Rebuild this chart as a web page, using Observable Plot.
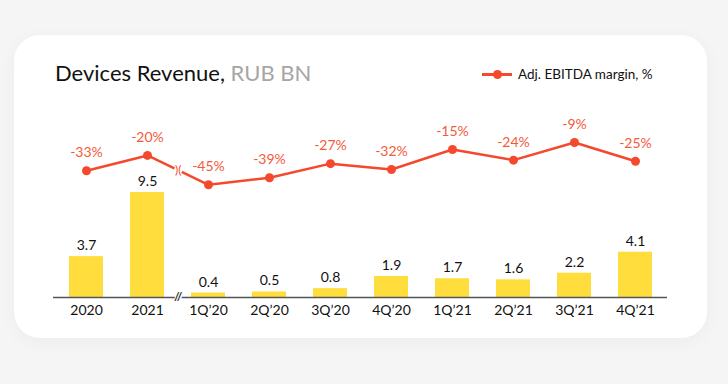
<!DOCTYPE html>
<html>
<head>
<meta charset="utf-8">
<script src="https://cdn.jsdelivr.net/npm/d3@7"></script>
<script src="https://cdn.jsdelivr.net/npm/@observablehq/plot@0.6"></script>
<style>
  html, body { margin: 0; padding: 0; }
  body { width: 728px; height: 384px; background: #f5f5f5; font-family: Lato, "Open Sans", sans-serif; overflow: hidden; }
  #wrap { position: relative; width: 728px; height: 384px; }
  #card { position: absolute; left: 14px; top: 35px; width: 693px; height: 303px; background: #fff; border-radius: 26px; box-shadow: 0 4px 18px rgba(0,0,0,0.04); }
  #title { position: absolute; left: 55px; top: 59px; font-size: 22px; color: #111; white-space: nowrap; }
  #title span { color: #a6a6a6; }
  #legend { position: absolute; left: 482px; top: 66px; font-size: 13.5px; color: #111; display: flex; align-items: center; white-space: nowrap; }
  #legend .sw { position: relative; width: 30px; height: 3px; background: #f4492c; margin-right: 6px; }
  #legend .sw::after { content: ""; position: absolute; left: 11px; top: -3px; width: 9px; height: 9px; border-radius: 50%; background: #f4492c; }
  .layer { position: absolute; left: 0; top: 0; }
</style>
</head>
<body>
<div id="wrap">
  <div id="card"></div>
  <div id="title">Devices Revenue, <span>RUB BN</span></div>
  <div id="legend"><div class="sw"></div>Adj. EBITDA margin, %</div>
  <div id="bars" class="layer"></div>
  <div id="line" class="layer"></div>
</div>
<script>
const categories = ["2020", "2021", "1Q'20", "2Q'20", "3Q'20", "4Q'20", "1Q'21", "2Q'21", "3Q'21", "4Q'21"];
const tickLabels = ["2020", "2021", "1Q\u201920", "2Q\u201920", "3Q\u201920", "4Q\u201920", "1Q\u201921", "2Q\u201921", "3Q\u201921", "4Q\u201921"];
const revenue = [3.7, 9.5, 0.4, 0.5, 0.8, 1.9, 1.7, 1.6, 2.2, 4.1];
const margin = [-33, -20, -45, -39, -27, -32, -15, -24, -9, -25];
const breakAfter = "2021";

const revData = categories.map((c, i) => ({cat: c, v: revenue[i]}));
const marData = categories.map((c, i) => ({cat: c, v: margin[i]}));
const labelOf = Object.fromEntries(categories.map((c, i) => [c, tickLabels[i]]));
const bi = categories.indexOf(breakAfter);

const xScale = {domain: categories, paddingInner: 0.45, paddingOuter: 0.225};
const font = "Lato, 'Open Sans', sans-serif";
const halfStep = (667 - 53) / categories.length / 2;

const bars = Plot.plot({
  width: 728, height: 384,
  marginTop: 186.5, marginBottom: 87, marginLeft: 53, marginRight: 61,
  style: {background: "transparent", fontFamily: font, overflow: "visible"},
  x: xScale,
  y: {domain: [0, 10], axis: null},
  marks: [
    Plot.barY(revData, {x: "cat", y: "v", fill: "#ffdd3c"}),
    Plot.text(revData, {x: "cat", y: "v", text: d => d.v.toFixed(1), dy: -11, fill: "#111", fontSize: 14}),
    Plot.ruleY([0], {stroke: "#555", strokeWidth: 1.5}),
    Plot.axisX({tickSize: 0, tickPadding: 8, fontSize: 14, fill: "#111", tickFormat: d => labelOf[d], label: null}),
    Plot.dot([breakAfter], {x: d => d, y: () => 0, dx: halfStep, r: 3.5, fill: "#fff", stroke: null}),
    Plot.text([breakAfter], {x: d => d, y: () => 0, dx: halfStep, text: () => "//", fontSize: 12, fill: "#333", fontWeight: "bold"})
  ]
});
document.getElementById("bars").appendChild(bars);

const line = Plot.plot({
  width: 728, height: 384,
  marginTop: 142, marginBottom: 384 - 184.3, marginLeft: 53, marginRight: 61,
  style: {background: "transparent", fontFamily: font, overflow: "visible"},
  x: {...xScale, axis: null},
  y: {domain: [-45, -9], axis: null},
  marks: [
    Plot.line(marData, {x: "cat", y: "v", stroke: "#f4492c", strokeWidth: 2.5}),
    Plot.dot(marData, {x: "cat", y: "v", r: 4.5, fill: "#f4492c"}),
    Plot.text(marData, {x: "cat", y: "v", text: d => d.v + "%", dy: -18, fill: "#f45a3a", fontSize: 14}),
    Plot.dot([breakAfter], {x: d => d, y: () => (margin[bi] + margin[bi + 1]) / 2, dx: halfStep, r: 4, fill: "#fff", stroke: null}),
    Plot.text([breakAfter], {x: d => d, y: () => (margin[bi] + margin[bi + 1]) / 2, dx: halfStep, text: () => ")(", fontSize: 12, fill: "#f4492c"})
  ]
});
document.getElementById("line").appendChild(line);
</script>
</body>
</html>
